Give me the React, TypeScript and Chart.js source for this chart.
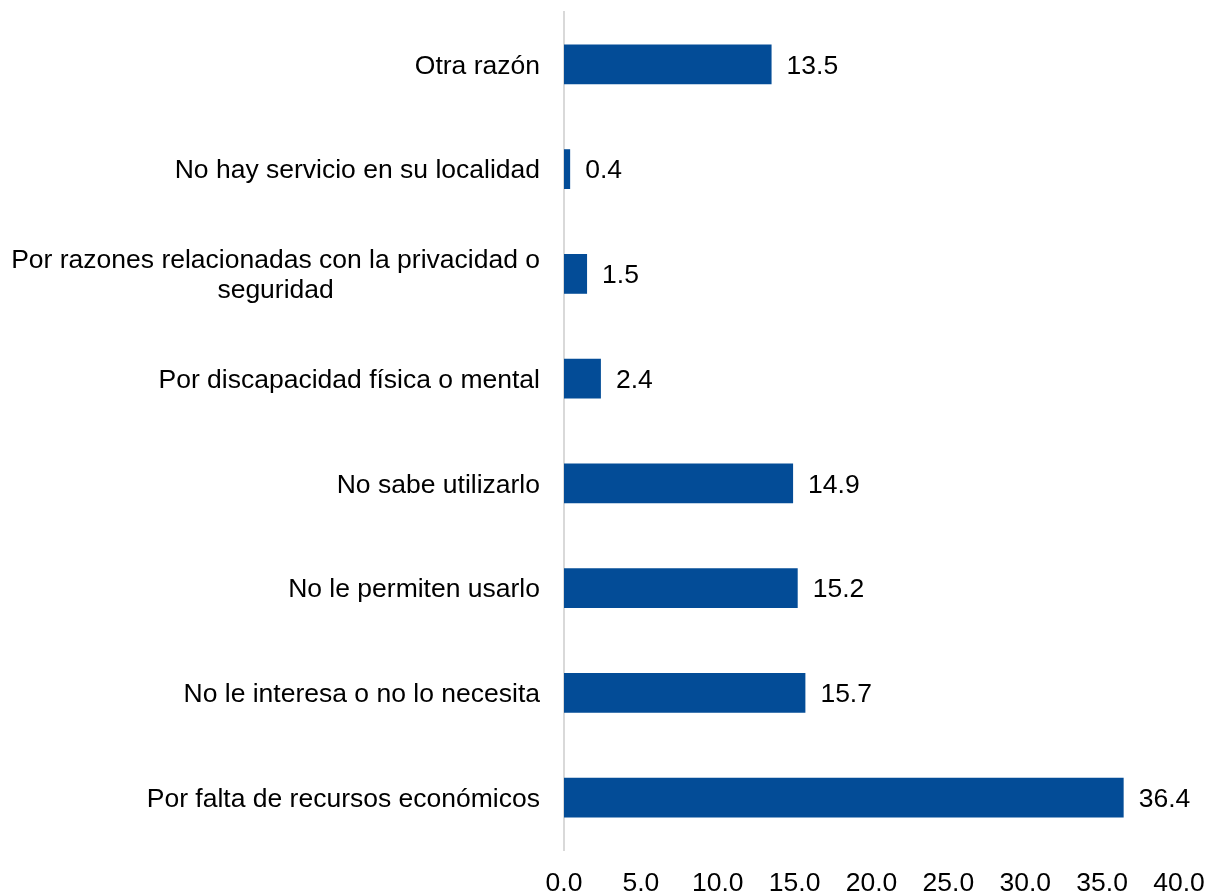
import React, { useEffect, useRef } from "react";
import { Chart, registerables } from "chart.js";

Chart.register(...registerables);

const categories: string[][] = [
  ["Otra razón"],
  ["No hay servicio en su localidad"],
  ["Por razones relacionadas con la privacidad o", "seguridad"],
  ["Por discapacidad física o mental"],
  ["No sabe utilizarlo"],
  ["No le permiten usarlo"],
  ["No le interesa o no lo necesita"],
  ["Por falta de recursos económicos"],
];
const values: number[] = [13.5, 0.4, 1.5, 2.4, 14.9, 15.2, 15.7, 36.4];
const xTicks: number[] = [0, 5, 10, 15, 20, 25, 30, 35, 40];

const FONT_FAMILY = "'Liberation Sans', Arial, sans-serif";
const FONT_SIZE = 26.5;
const BAR_COLOR = "#034C97";

const labelsPlugin = {
  id: "customLabels",
  afterDatasetsDraw(chart: any) {
    const ctx = chart.ctx;
    const yScale = chart.scales.y;
    const xScale = chart.scales.x;
    const meta = chart.getDatasetMeta(0);
    ctx.save();
    ctx.font = `${FONT_SIZE}px ${FONT_FAMILY}`;
    ctx.fillStyle = "#000000";
    ctx.textBaseline = "middle";
    // category labels
    const rightEdge = chart.chartArea.left - 24;
    categories.forEach((lines, i) => {
      const yc = yScale.getPixelForValue(i);
      const lh = 30;
      const widths = lines.map((l) => ctx.measureText(l).width);
      const maxW = Math.max(...widths);
      const center = rightEdge - maxW / 2;
      ctx.textAlign = "center";
      lines.forEach((l, j) => {
        const y = yc + (j - (lines.length - 1) / 2) * lh + 2;
        ctx.fillText(l, center, y);
      });
    });
    // value labels
    ctx.textAlign = "left";
    meta.data.forEach((bar: any, i: number) => {
      ctx.fillText(values[i].toFixed(1), bar.x + 15, bar.y + 2);
    });
    // x tick labels
    ctx.textAlign = "center";
    xTicks.forEach((v) => {
      ctx.fillText(v.toFixed(1), xScale.getPixelForValue(v), chart.chartArea.bottom + 34);
    });
    ctx.restore();
  },
};

export default function App() {
  const ref = useRef<HTMLCanvasElement | null>(null);
  useEffect(() => {
    if (!ref.current) return;
    const chart = new Chart(ref.current, {
      type: "bar",
      data: {
        labels: categories.map((c) => c.join(" ")),
        datasets: [
          {
            data: values,
            backgroundColor: BAR_COLOR,
            borderWidth: 0,
            categoryPercentage: 1,
            barPercentage: 0.38,
          },
        ],
      },
      options: {
        indexAxis: "y",
        animation: false,
        responsive: false,
        maintainAspectRatio: false,
        layout: { padding: { top: 12, right: 27, left: 0, bottom: 0 } },
        plugins: {
          legend: { display: false },
          tooltip: { enabled: false },
        },
        scales: {
          x: {
            min: 0,
            max: 40,
            afterBuildTicks: (scale: any) => {
              scale.ticks = xTicks.map((v) => ({ value: v }));
            },
            afterFit: (scale: any) => {
              scale.height = 44;
              scale.paddingLeft = 0;
              scale.paddingRight = 0;
            },
            grid: { display: false, drawTicks: false },
            border: { display: false },
            ticks: { display: false },
          },
          y: {
            afterFit: (scale: any) => {
              scale.width = 564;
              scale.paddingTop = 0;
              scale.paddingBottom = 0;
            },
            grid: { display: false, drawTicks: false },
            border: { display: true, color: "#d9d9d9", width: 2 },
            ticks: { display: false },
          },
        },
      },
      plugins: [labelsPlugin],
    });
    return () => chart.destroy();
  }, []);
  return (
    <div style={{ position: "fixed", left: 0, top: 0, width: 1206, height: 894, background: "#fff" }}>
      <canvas ref={ref} width={1206} height={894} style={{ width: 1206, height: 894, display: "block" }} />
    </div>
  );
}
